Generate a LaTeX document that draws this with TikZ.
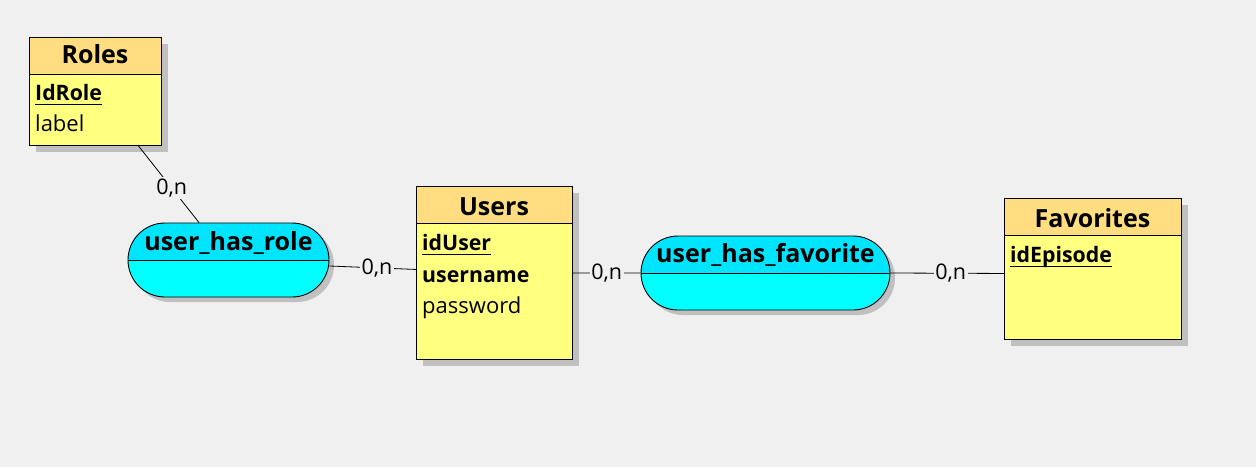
\documentclass[tikz,border=0pt]{standalone}
\usepackage{fontspec}
\setmainfont{Open Sans}
\usetikzlibrary{shapes.misc,shadows}
\definecolor{bgc}{HTML}{F0F0F0}
\definecolor{headc}{HTML}{FFDD80}
\definecolor{bodyc}{HTML}{FFFF80}
\definecolor{reltop}{HTML}{00E5FF}
\definecolor{relbot}{HTML}{00FFFF}
\definecolor{shadowc}{HTML}{C0C0C0}
\begin{document}
\begin{tikzpicture}[x=1pt,y=-1pt,
  entity/.style={draw=black, line width=0.9pt, fill=bodyc, inner sep=0pt, anchor=north west,
    drop shadow={shadow xshift=7pt, shadow yshift=-7pt, fill=shadowc, opacity=1},
    path picture={\fill[headc] (path picture bounding box.north west) rectangle ([yshift=-37pt]path picture bounding box.north east);
      \draw[line width=0.9pt] ([yshift=-37pt]path picture bounding box.north west) -- ([yshift=-37pt]path picture bounding box.north east);}},
  relation/.style={rounded rectangle, draw=black, line width=0.9pt, fill=relbot, inner sep=0pt,
    drop shadow={shadow xshift=5pt, shadow yshift=-5pt, fill=shadowc, opacity=1},
    path picture={\fill[reltop] (path picture bounding box.north west) rectangle (path picture bounding box.east);
      \draw[line width=0.9pt] (path picture bounding box.west) -- (path picture bounding box.east);}},
  title/.style={font=\bfseries\fontsize{25}{27}\selectfont, inner sep=0pt, anchor=base},
  attr/.style={font=\fontsize{22}{24}\selectfont, inner sep=0pt, anchor=base west},
  keyattr/.style={font=\bfseries\fontsize{21.3}{23}\selectfont, inner sep=0pt, anchor=base west},
  uline/.style={line width=0.9pt},
  card/.style={font=\fontsize{21.5}{23}\selectfont, fill=bgc, inner sep=1.5pt},
  conn/.style={draw=black, line width=0.8pt}
]
\fill[bgc] (0,0) rectangle (1256,467);
\useasboundingbox (0,0) rectangle (1256,467);

% Entities
\node[entity, minimum width=132pt, minimum height=108pt] (roles) at (29,37) {};
\node[title] (rolesT) at (95,63) {Roles};
\node[keyattr] (idrole) at (35,100) {IdRole};
\draw[uline] ([yshift=-4.5pt]idrole.base west) -- ([yshift=-4.5pt]idrole.base east);
\node[attr] (label) at (35,131) {label};

\node[entity, minimum width=156pt, minimum height=173pt] (users) at (416,186) {};
\node[title] (usersT) at (494,215) {Users};
\node[keyattr] (iduser) at (422,250) {idUser};
\draw[uline] ([yshift=-4.5pt]iduser.base west) -- ([yshift=-4.5pt]iduser.base east);
\node[keyattr] (username) at (422,282) {username};
\node[attr] (password) at (422,313) {password};

\node[entity, minimum width=177pt, minimum height=141pt] (fav) at (1004,198) {};
\node[title] (favT) at (1092.5,227) {Favorites};
\node[keyattr] (idep) at (1010,262) {idEpisode};
\draw[uline] ([yshift=-4.5pt]idep.base west) -- ([yshift=-4.5pt]idep.base east);

% Relations
\node[relation, minimum width=201pt, minimum height=74pt] (uhr) at (228.5,260) {};
\node[title] (uhrT) at (228.5,250) {user\_has\_role};
\node[relation, minimum width=249pt, minimum height=74pt] (uhf) at (765.5,273) {};
\node[title] (uhfT) at (765.5,262.5) {user\_has\_favorite};

% Connectors
\draw[conn] ([xshift=43pt]roles.south) -- node[card, pos=0.55] {0,n} ([xshift=-29.5pt]uhr.north);
\draw[conn] ([yshift=-6pt]uhr.east) -- node[card, pos=0.55] {0,n} ([yshift=3.5pt]users.west);
\draw[conn] (users.east) -- node[card] {0,n} (uhf.west);
\draw[conn] (uhf.east) -- node[card, pos=0.53] {0,n} ([yshift=-4.5pt]fav.west);
\end{tikzpicture}
\end{document}
